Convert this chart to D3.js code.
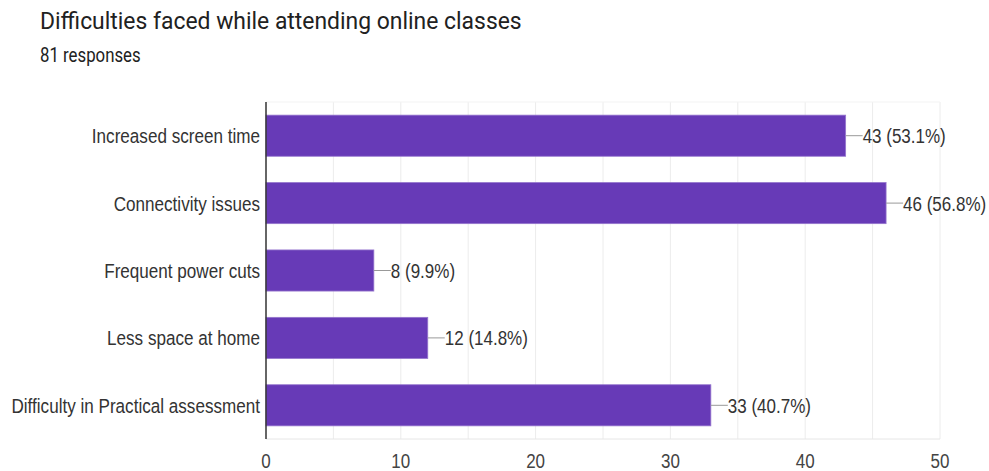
<!DOCTYPE html>
<html>
<head>
<meta charset="utf-8">
<script src="https://cdn.jsdelivr.net/npm/d3@7"></script>
<style>
  body { margin: 0; background: #fff; }
  #chart { width: 989px; height: 471px; }
  .gtext { font-family: "Liberation Sans", Arial, sans-serif; }
  .htext { font-family: Roboto, "Liberation Sans", sans-serif; }
</style>
</head>
<body>
<div id="chart"></div>
<script>
const categories = [
  "Increased screen time",
  "Connectivity issues",
  "Frequent power cuts",
  "Less space at home",
  "Difficulty in Practical assessment"
];
const counts = [43, 46, 8, 12, 33];
const percents = ["53.1%", "56.8%", "9.9%", "14.8%", "40.7%"];
const xTicks = [0, 10, 20, 30, 40, 50];
const totalResponses = 81;

const width = 989;
const height = 471;
const margin = { top: 102, right: 49, bottom: 32, left: 266 };
// the source text is drawn a bit taller than wide
const stretch = 1.22;

const svg = d3.select("#chart")
  .append("svg")
  .attr("width", width)
  .attr("height", height);

function addText(parent, x, y, txt, cls, sy) {
  return parent.append("text")
    .attr("class", cls)
    .attr("transform", "translate(" + x + "," + y + ") scale(1," + (sy || stretch) + ")")
    .text(txt);
}

addText(svg, 40, 29, "Difficulties faced while attending online classes", "htext", 1.08)
  .style("font-size", "22.9px")
  .style("fill", "#212121");

addText(svg, 40, 62, totalResponses + " responses", "htext", 1.2)
  .style("font-size", "16.8px")
  .style("fill", "#212121");

const xScale = d3.scaleLinear()
  .domain([0, 50])
  .range([margin.left, width - margin.right]);

const yScale = d3.scaleBand()
  .domain(categories)
  .range([margin.top, height - margin.bottom])
  .paddingInner(0.39)
  .paddingOuter(0.195);

// gridlines every 5
svg.append("g")
  .selectAll("line")
  .data(d3.range(5, 51, 5))
  .enter()
  .append("line")
  .attr("x1", (d) => xScale(d))
  .attr("x2", (d) => xScale(d))
  .attr("y1", margin.top)
  .attr("y2", height - margin.bottom)
  .style("stroke", "#ececec")
  .style("stroke-width", 1);

svg.append("line")
  .attr("x1", margin.left)
  .attr("x2", width - margin.right)
  .attr("y1", height - margin.bottom)
  .attr("y2", height - margin.bottom)
  .style("stroke", "#e6e6e6");

svg.append("line")
  .attr("x1", margin.left)
  .attr("x2", width - margin.right)
  .attr("y1", margin.top)
  .attr("y2", margin.top)
  .style("stroke", "#f3f3f3");

svg.append("g")
  .selectAll("rect")
  .data(counts)
  .enter()
  .append("rect")
  .attr("x", xScale(0))
  .attr("y", (d, i) => yScale(categories[i]))
  .attr("width", (d) => xScale(d) - xScale(0))
  .attr("height", yScale.bandwidth())
  .style("fill", "#673ab7")
  .style("stroke", "#9575cd")
  .style("stroke-width", 0.8);

// leader lines and value labels
const labels = svg.append("g");
counts.forEach((d, i) => {
  const cy = yScale(categories[i]) + yScale.bandwidth() / 2;
  labels.append("line")
    .attr("x1", xScale(d))
    .attr("x2", xScale(d) + 17)
    .attr("y1", cy)
    .attr("y2", cy)
    .style("stroke", "#999")
    .style("stroke-width", 1);
  addText(labels, xScale(d) + 17, cy, d + " (" + percents[i] + ")", "gtext")
    .attr("dy", "0.36em")
    .style("font-size", "17px")
    .style("fill", "#333");
});

// category labels
const catG = svg.append("g");
categories.forEach((c) => {
  addText(catG, margin.left - 6, yScale(c) + yScale.bandwidth() / 2, c, "gtext")
    .attr("dy", "0.36em")
    .attr("text-anchor", "end")
    .style("font-size", "17.1px")
    .style("fill", "#333");
});

// tick labels
const tickG = svg.append("g");
xTicks.forEach((t) => {
  addText(tickG, xScale(t), 468, t, "gtext")
    .attr("text-anchor", "middle")
    .style("font-size", "17px")
    .style("fill", "#444");
});

// y axis line
svg.append("line")
  .attr("x1", margin.left)
  .attr("x2", margin.left)
  .attr("y1", margin.top)
  .attr("y2", height - margin.bottom)
  .style("stroke", "#333")
  .style("stroke-width", 1.5);
</script>
</body>
</html>
